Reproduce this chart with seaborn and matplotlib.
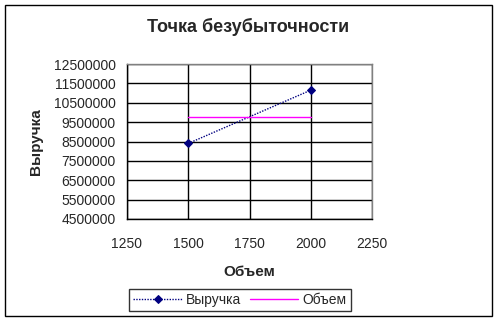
import matplotlib
matplotlib.use("Agg")
import matplotlib.pyplot as plt
import seaborn as sns
import pandas as pd
from matplotlib.patches import Rectangle

volume = [1500, 2000]
revenue = [8400000, 11150000]
breakeven = [9770000, 9770000]
x_ticks = [1250, 1500, 1750, 2000, 2250]
y_ticks = [4500000, 5500000, 6500000, 7500000, 8500000, 9500000, 10500000, 11500000, 12500000]

sns.set_style("white")
plt.rcParams['font.family'] = ['Liberation Sans', 'DejaVu Sans']

W, H = 499, 322
fig = plt.figure(figsize=(W / 100, H / 100), dpi=100)
ax = fig.add_axes([127 / W, 1 - 219 / H, (372 - 127) / W, (219 - 64) / H])

df1 = pd.DataFrame({"x": volume, "y": revenue})
df2 = pd.DataFrame({"x": volume, "y": breakeven})
sns.lineplot(data=df1, x="x", y="y", ax=ax, color="#000080", linestyle=(0, (1, 1)),
             linewidth=1, marker="D", markersize=4, markeredgecolor="#000080",
             label="Выручка", legend=False)
sns.lineplot(data=df2, x="x", y="y", ax=ax, color="#ff00ff", linewidth=1,
             label="Объем", legend=False)

ax.set_xlim(1250, 2250)
ax.set_ylim(4500000, 12500000)
ax.set_xticks(x_ticks)
ax.set_yticks(y_ticks)
ax.set_xticklabels([str(v) for v in x_ticks], fontsize=10)
ax.set_yticklabels([str(v) for v in y_ticks], fontsize=10)
ax.grid(True, color="black", linewidth=1)
ax.set_axisbelow(True)
for s in ["top", "right"]:
    ax.spines[s].set_color("#808080")
    ax.spines[s].set_linewidth(1)
for s in ["left", "bottom"]:
    ax.spines[s].set_color("black")
    ax.spines[s].set_linewidth(1)
ax.tick_params(axis="both", direction="out", length=4, width=1, color="black", pad=4)
ax.tick_params(axis="x", pad=9)

ax.set_xlabel("Объем", fontsize=11, fontweight="bold", labelpad=10)
ax.set_ylabel("Выручка", fontsize=11, fontweight="bold", labelpad=8)

fig.text(248 / W, 1 - 27 / H, "Точка безубыточности", ha="center", va="center",
         fontsize=13, fontweight="bold")

handles, labels = ax.get_legend_handles_labels()
leg = fig.legend(handles, labels, loc="center", bbox_to_anchor=(240 / W, 1 - 300 / H),
                 ncol=2, frameon=True, fancybox=False, edgecolor="black", fontsize=10,
                 handlelength=3.5, handletextpad=0.3, columnspacing=0.6,
                 borderpad=0.3)
leg.get_frame().set_linewidth(1)

fig.patches.append(Rectangle((5 / W, 1 - 316 / H), (492 - 5) / W, (316 - 5) / H,
                             transform=fig.transFigure, fill=False, edgecolor="black",
                             linewidth=1))

fig.savefig("out.png", dpi=100)
